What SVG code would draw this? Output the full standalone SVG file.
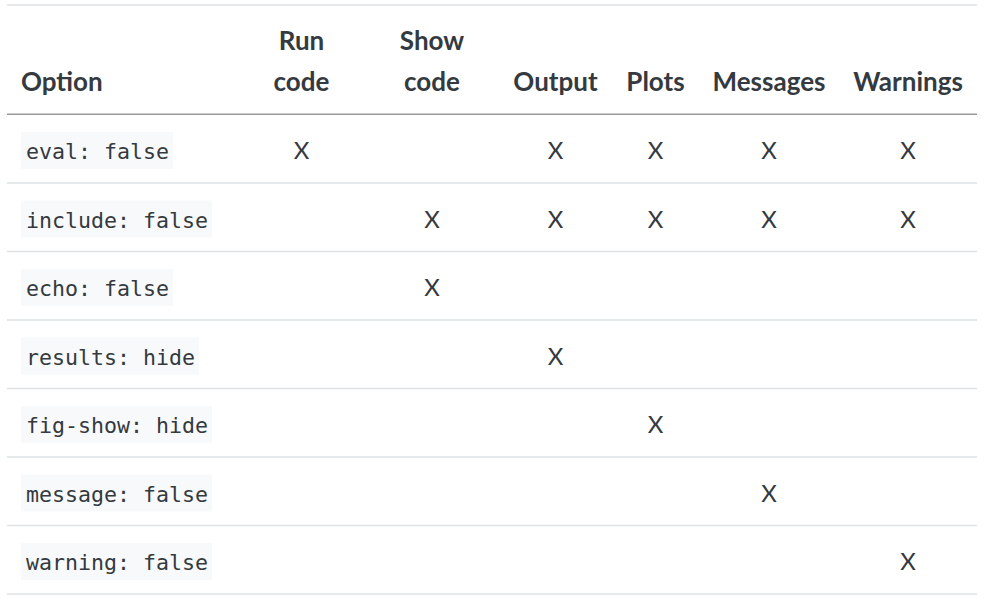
<svg xmlns="http://www.w3.org/2000/svg" width="1001" height="605" viewBox="0 0 1001 605">
  <style>
    .h { font-family: Lato, "Source Sans Pro", "Noto Sans", sans-serif; font-weight: 700; font-size: 26px; fill: #343a40; }
    .hc { text-anchor: middle; }
    .code { font-family: "DejaVu Sans Mono", "Liberation Mono", monospace; font-size: 21.6px; fill: #343a40; }
    .cbg { fill: #f8f9fa; }
    .x { font-family: Lato, "Source Sans Pro", "Noto Sans", sans-serif; font-size: 24px; fill: #343a40; text-anchor: middle; }
    .rule { stroke: #dee2e6; stroke-width: 1.5; }
    .hrule { stroke: #9a9a9a; stroke-width: 1.5; }
  </style>
  <rect width="1001" height="605" fill="#ffffff"/>
  <g id="rules">
    <line class="rule" x1="7" y1="5" x2="977" y2="5"/>
    <line class="hrule" x1="7" y1="114.3" x2="977" y2="114.3"/>
    <line class="rule" x1="7" y1="183" x2="977" y2="183"/>
    <line class="rule" x1="7" y1="251.5" x2="977" y2="251.5"/>
    <line class="rule" x1="7" y1="320" x2="977" y2="320"/>
    <line class="rule" x1="7" y1="388.5" x2="977" y2="388.5"/>
    <line class="rule" x1="7" y1="457" x2="977" y2="457"/>
    <line class="rule" x1="7" y1="525.5" x2="977" y2="525.5"/>
    <line class="rule" x1="7" y1="594" x2="977" y2="594"/>
  </g>
  <g id="header">
    <text class="h" x="21" y="90.5">Option</text>
    <text class="h hc" x="301.5" y="50">Run</text>
    <text class="h hc" x="301.5" y="90.5">code</text>
    <text class="h hc" x="432" y="50">Show</text>
    <text class="h hc" x="432" y="90.5">code</text>
    <text class="h hc" x="555.5" y="90.5">Output</text>
    <text class="h hc" x="655.5" y="90.5">Plots</text>
    <text class="h hc" x="769" y="90.5">Messages</text>
    <text class="h hc" x="908" y="90.5">Warnings</text>
  </g>
  <g id="row-eval">
    <rect class="cbg" x="21" y="132" width="152" height="37"/>
    <text class="code" x="26" y="159">eval: false</text>
    <text class="x" x="301.5" y="159">X</text>
    <text class="x" x="555.5" y="159">X</text>
    <text class="x" x="655.5" y="159">X</text>
    <text class="x" x="769" y="159">X</text>
    <text class="x" x="908" y="159">X</text>
  </g>
  <g id="row-include">
    <rect class="cbg" x="21" y="200.5" width="191" height="37"/>
    <text class="code" x="26" y="227.5">include: false</text>
    <text class="x" x="432" y="227.5">X</text>
    <text class="x" x="555.5" y="227.5">X</text>
    <text class="x" x="655.5" y="227.5">X</text>
    <text class="x" x="769" y="227.5">X</text>
    <text class="x" x="908" y="227.5">X</text>
  </g>
  <g id="row-echo">
    <rect class="cbg" x="21" y="269" width="152" height="37"/>
    <text class="code" x="26" y="296">echo: false</text>
    <text class="x" x="432" y="296">X</text>
  </g>
  <g id="row-results">
    <rect class="cbg" x="21" y="337.5" width="178" height="37"/>
    <text class="code" x="26" y="364.5">results: hide</text>
    <text class="x" x="555.5" y="364.5">X</text>
  </g>
  <g id="row-fig-show">
    <rect class="cbg" x="21" y="406" width="191" height="37"/>
    <text class="code" x="26" y="433">fig-show: hide</text>
    <text class="x" x="655.5" y="433">X</text>
  </g>
  <g id="row-message">
    <rect class="cbg" x="21" y="474.5" width="191" height="37"/>
    <text class="code" x="26" y="501.5">message: false</text>
    <text class="x" x="769" y="501.5">X</text>
  </g>
  <g id="row-warning">
    <rect class="cbg" x="21" y="543" width="191" height="37"/>
    <text class="code" x="26" y="570">warning: false</text>
    <text class="x" x="908" y="570">X</text>
  </g>
</svg>
